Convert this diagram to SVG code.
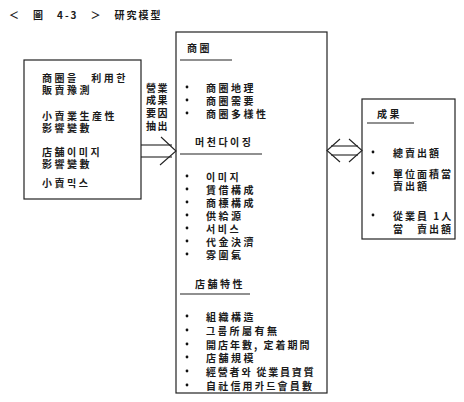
<svg xmlns="http://www.w3.org/2000/svg" width="464" height="402" viewBox="0 0 464 402">
<style>
text{font-family:"Noto Sans CJK KR","Noto Sans CJK JP",sans-serif;font-size:10px;font-weight:bold;letter-spacing:2.5px;fill:#1a1a1a;dominant-baseline:central}
.rt{letter-spacing:2px}
.box{fill:#fff;stroke:#222;stroke-width:1.2}
.ul{stroke:#222;stroke-width:1.2}
.b{fill:#111}
.cn{fill:none;stroke:#222;stroke-width:1.1}
</style>
<rect width="464" height="402" fill="#fff"/>
<g id="title">
<text x="9" y="14" style="letter-spacing:2px">＜　圖　4-3　＞　研究模型</text>
</g>
<g id="left">
<rect class="box" x="24" y="60" width="117" height="139"/>
<text x="42" y="77">商圈을　利用한</text>
<text x="42" y="89">販賣豫測</text>
<text x="42" y="115">小賣業生産性</text>
<text x="42" y="127">影響變數</text>
<text x="42" y="151">店舗이미지</text>
<text x="42" y="163">影響變數</text>
<text x="42" y="182">小賣믹스</text>
</g>
<g id="label">
<text x="146" y="87" style="letter-spacing:1.5px">營業</text>
<text x="146" y="99" style="letter-spacing:1.5px">成果</text>
<text x="146" y="112" style="letter-spacing:1.5px">要因</text>
<text x="146" y="125" style="letter-spacing:1.5px">抽出</text>
</g>
<g id="center">
<rect class="box" x="176" y="32" width="151" height="361"/>
<text x="187" y="47">商圈</text>
<line class="ul" x1="180" y1="60" x2="232" y2="60"/>
<circle class="b" cx="187" cy="87" r="1.4"/><text x="206" y="87">商圈地理</text>
<circle class="b" cx="187" cy="100" r="1.4"/><text x="206" y="100">商圈需要</text>
<circle class="b" cx="187" cy="113" r="1.4"/><text x="206" y="113">商圈多樣性</text>
<text x="195" y="141">머천다이징</text>
<line class="ul" x1="180" y1="154" x2="262" y2="154"/>
<circle class="b" cx="187" cy="176" r="1.4"/><text x="206" y="176">이미지</text>
<circle class="b" cx="187" cy="189" r="1.4"/><text x="206" y="189">賃借構成</text>
<circle class="b" cx="187" cy="202" r="1.4"/><text x="206" y="202">商標構成</text>
<circle class="b" cx="187" cy="215" r="1.4"/><text x="206" y="215">供給源</text>
<circle class="b" cx="187" cy="228" r="1.4"/><text x="206" y="228">서비스</text>
<circle class="b" cx="187" cy="241" r="1.4"/><text x="206" y="241">代金決濟</text>
<circle class="b" cx="187" cy="254" r="1.4"/><text x="206" y="254">雰圍氣</text>
<text x="195" y="283">店舗特性</text>
<line class="ul" x1="180" y1="294" x2="250" y2="294"/>
<circle class="b" cx="187" cy="316" r="1.4"/><text x="206" y="316">組織構造</text>
<circle class="b" cx="187" cy="330" r="1.4"/><text x="206" y="330">그룹所屬有無</text>
<circle class="b" cx="187" cy="344" r="1.4"/><text x="206" y="344" style="letter-spacing:2px">開店年數, 定着期間</text>
<circle class="b" cx="187" cy="357" r="1.4"/><text x="206" y="357">店舗規模</text>
<circle class="b" cx="187" cy="371" r="1.4"/><text x="206" y="371" style="letter-spacing:1.8px">經營者와  從業員資質</text>
<circle class="b" cx="187" cy="385" r="1.4"/><text x="206" y="385" style="letter-spacing:2.2px">自社信用카드會員數</text>
</g>
<g id="right">
<rect class="box" x="362" y="99" width="93" height="140"/>
<text x="377" y="113">成果</text>
<line class="ul" x1="367" y1="123" x2="414" y2="123"/>
<circle class="b" cx="373" cy="152" r="1.4"/><text class="rt" x="393" y="152">總賣出額</text>
<circle class="b" cx="373" cy="173" r="1.4"/><text class="rt" x="393" y="173">單位面積當</text>
<text class="rt" x="393" y="185">賣出額</text>
<circle class="b" cx="373" cy="215" r="1.4"/><text class="rt" x="393" y="215">從業員 1人</text>
<text class="rt" x="393" y="228">當　賣出額</text>
</g>
<g id="connectors">
<line class="cn" x1="141" y1="145" x2="172" y2="145"/>
<line class="cn" x1="141" y1="157" x2="172" y2="157"/>
<polyline class="cn" points="161,137 176,151 160,165"/>
<line class="cn" x1="331" y1="146" x2="358" y2="146"/>
<line class="cn" x1="331" y1="155" x2="358" y2="155"/>
<polyline class="cn" points="340,139 327,150.5 340,162"/>
<polyline class="cn" points="349,139 362,150.5 349,162"/>
</g>
</svg>
